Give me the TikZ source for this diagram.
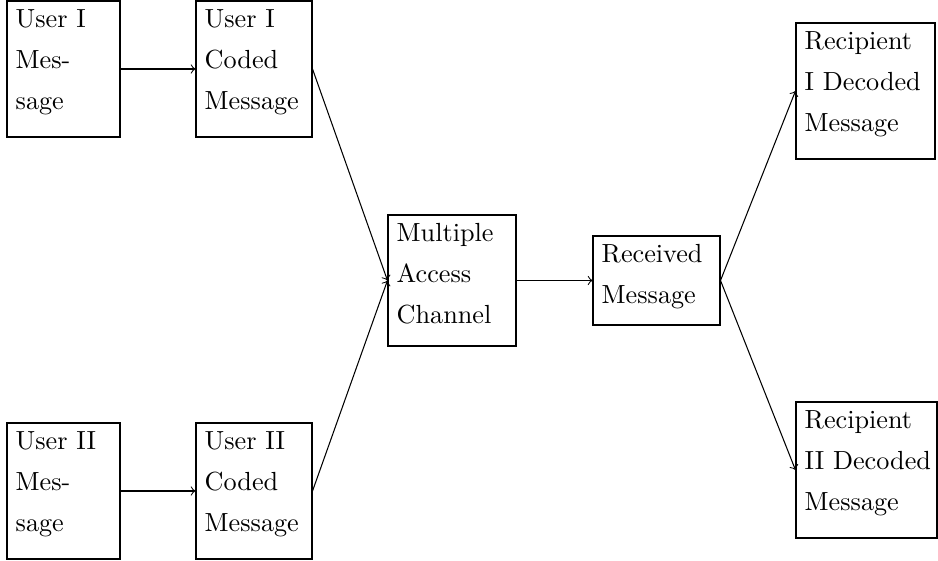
\documentclass[tikz,border=0pt]{standalone}
\usetikzlibrary{fit}
\begin{document}
\begin{tikzpicture}[x=0.3817pt, y=-0.3817pt,
  box/.style={draw, inner sep=0pt},
  txt/.style={align=left, inner sep=3.33pt, anchor=north west, font=\fontsize{10}{15.65}\selectfont},
  conn/.style={->}]
\useasboundingbox (0,0) rectangle (938,561);
% boxes
\node[box, fit={(7,1) (120,137)}] (a) {};
\node[box, fit={(196,1) (312,137)}] (b) {};
\node[box, fit={(388,215) (516,346)}] (c) {};
\node[box, fit={(593,236) (720,325)}] (d) {};
\node[box, fit={(796,23) (935,159)}] (e) {};
\node[box, fit={(796,402) (937,538)}] (f) {};
\node[box, fit={(7,423) (120,559)}] (g) {};
\node[box, fit={(196,423) (312,559)}] (h) {};
% texts
\node[txt] (ta) at (a.north west) {User I\\Mes-\\sage};
\node[txt] (tb) at (b.north west) {User I\\Coded\\Message};
\node[txt] (tc) at (c.north west) {Multiple\\Access\\Channel};
\node[txt] (td) at (d.north west) {Received\\Message};
\node[txt] (te) at (e.north west) {Recipient\\I Decoded\\Message};
\node[txt] (tf) at (f.north west) {Recipient\\II Decoded\\Message};
\node[txt] (tg) at (g.north west) {User II\\Mes-\\sage};
\node[txt] (th) at (h.north west) {User II\\Coded\\Message};
% connectors
\draw[conn] (a) -- (b);
\draw[conn] (g) -- (h);
\draw[conn] (b.east) -- (c.west);
\draw[conn] (h.east) -- (c.west);
\draw[conn] (c) -- (d);
\draw[conn] (d.east) -- (e.west);
\draw[conn] (d.east) -- (f.west);
\end{tikzpicture}
\end{document}
